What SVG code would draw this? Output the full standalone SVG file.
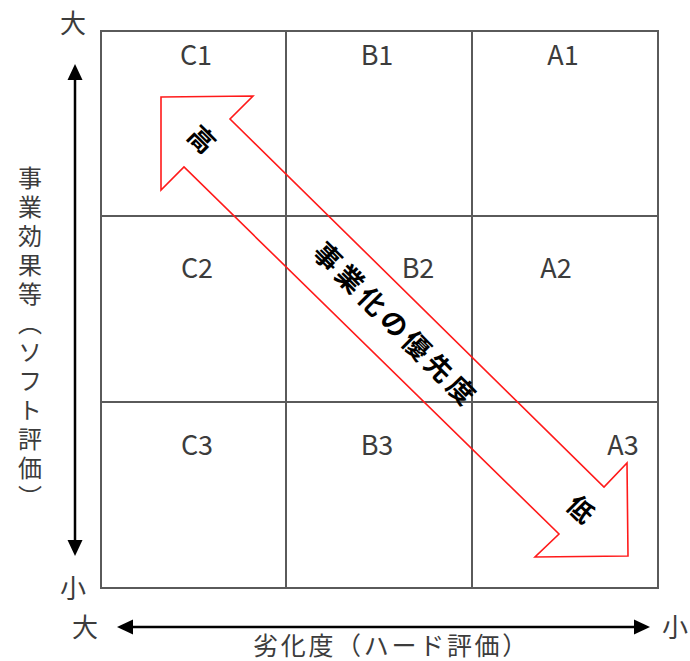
<svg xmlns="http://www.w3.org/2000/svg" width="690" height="661" viewBox="0 0 690 661">
<defs>
<style>
.jp{font-family:"Noto Sans CJK JP","Noto Sans",sans-serif;fill:#3c3c3c;}
.lbl{font-family:"Noto Sans CJK JP","Noto Sans",sans-serif;font-size:27px;fill:#3c3c3c;text-anchor:middle;}
.grid{stroke:#5a5a5a;stroke-width:2;fill:none;}
.axis{stroke:#000;stroke-width:2.5;fill:none;}
.diag{font-family:"Noto Sans CJK JP",sans-serif;font-weight:bold;fill:#000;text-anchor:middle;dominant-baseline:central;}
</style>
</defs>
<rect width="690" height="661" fill="#fff"/>
<g id="grid">
<rect class="grid" x="101" y="31" width="557" height="557"/>
<line class="grid" x1="286" y1="31" x2="286" y2="588"/>
<line class="grid" x1="472" y1="31" x2="472" y2="588"/>
<line class="grid" x1="101" y1="216" x2="658" y2="216"/>
<line class="grid" x1="101" y1="402" x2="658" y2="402"/>
</g>
<g id="cells">
<text class="lbl" x="196" y="65">C1</text>
<text class="lbl" x="377" y="65">B1</text>
<text class="lbl" x="563" y="65">A1</text>
<text class="lbl" x="197" y="278">C2</text>
<text class="lbl" x="418" y="278">B2</text>
<text class="lbl" x="556" y="278">A2</text>
<text class="lbl" x="197" y="455">C3</text>
<text class="lbl" x="377" y="455">B3</text>
<text class="lbl" x="623" y="455">A3</text>
</g>
<g id="connectors">
<line class="axis" x1="75" y1="78" x2="75" y2="542"/>
<polygon points="75,64 67.5,80 82.5,80" fill="#000"/>
<polygon points="75,556 67.5,540 82.5,540" fill="#000"/>
<line class="axis" x1="130" y1="627" x2="637" y2="627"/>
<polygon points="117,627 133,619.5 133,634.5" fill="#000"/>
<polygon points="650,627 634,619.5 634,634.5" fill="#000"/>
</g>
<g id="priority-arrow">
<polygon points="161,97 253,96 230,119 604,487 627,463 628,556 535,557 559,534 184,167 161,190" fill="none" stroke="#ff1a1a" stroke-width="1.6" stroke-linejoin="miter"/>
<text class="diag" font-size="26" transform="translate(203,138) rotate(45)">高</text>
<text class="diag" font-size="27" letter-spacing="4.5" transform="translate(397,324) rotate(45)">事業化の優先度</text>
<text class="diag" font-size="26" transform="translate(582,508) rotate(45)">低</text>
</g>
<g id="axis-labels">
<text class="jp" font-size="26" x="73" y="33" text-anchor="middle">大</text>
<text class="jp" font-size="26" x="73" y="598" text-anchor="middle">小</text>
<text class="jp" font-size="26" x="85" y="637" text-anchor="middle">大</text>
<text class="jp" font-size="26" x="675" y="637" text-anchor="middle">小</text>
<text class="jp" font-size="25" x="253" y="655" letter-spacing="2.7">劣化度（ハード評価）</text>
<text class="jp" font-size="24" x="30" y="166" letter-spacing="5" style="writing-mode:vertical-rl;text-orientation:mixed">事業効果等（ソフト評価）</text>
</g>
</svg>
